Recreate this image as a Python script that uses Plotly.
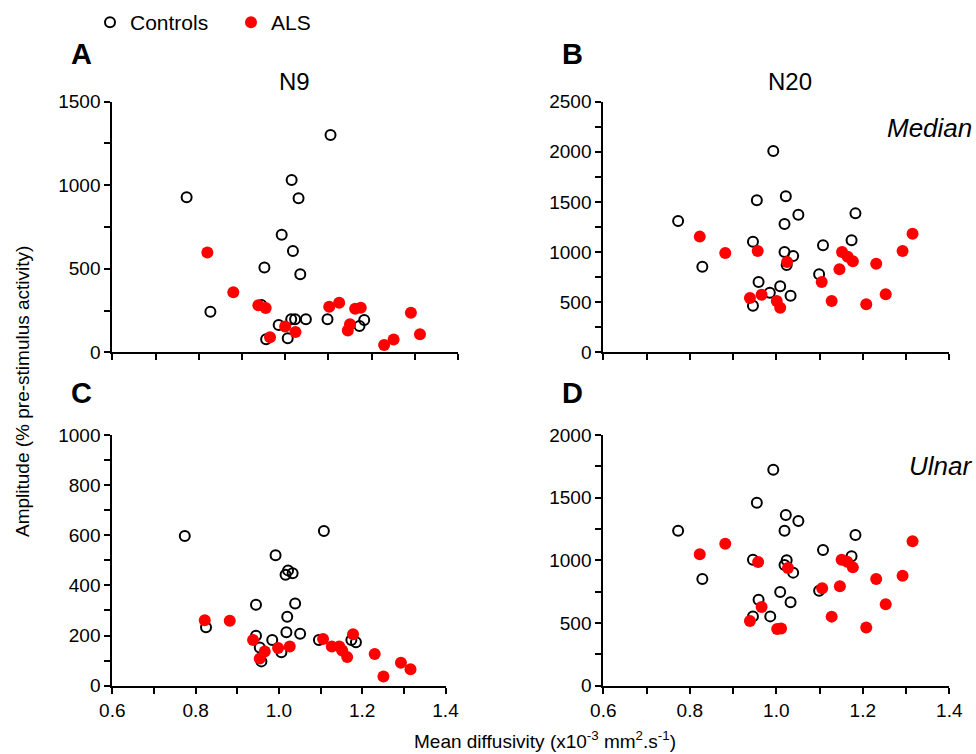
import plotly.graph_objects as go

# ---------------- data ----------------
# Panel A: N9, median nerve
a_ctrl_x = [0.772, 0.827, 1.105, 1.015, 1.031, 0.992, 1.018, 0.952, 1.035, 0.945, 0.985, 1.014, 1.023, 1.048, 1.098, 1.183, 1.172, 0.956, 1.006]
a_ctrl_y = [928, 243, 1301, 1031, 922, 704, 606, 507, 467, 283, 164, 198, 198, 198, 198, 194, 158, 78, 84]
a_als_x = [0.820, 0.880, 0.938, 0.955, 0.965, 1.000, 1.024, 1.102, 1.125, 1.162, 1.175, 1.150, 1.145, 1.291, 1.312, 1.251, 1.229]
a_als_y = [597, 359, 281, 265, 90, 154, 122, 273, 297, 261, 267, 168, 130, 237, 108, 76, 44]

# Panel B: N20, median nerve
b_ctrl_x = [0.773, 0.829, 0.993, 0.955, 1.022, 1.051, 1.183, 1.019, 0.946, 1.174, 1.108, 1.019, 1.039, 1.024, 1.099, 0.959, 1.009, 0.985, 1.033, 0.946]
b_ctrl_y = [1310, 854, 2008, 1516, 1556, 1373, 1386, 1280, 1104, 1117, 1067, 1001, 961, 871, 778, 701, 658, 595, 565, 465]
b_als_x = [0.823, 0.882, 0.957, 1.025, 0.966, 0.939, 1.001, 1.009, 1.105, 1.128, 1.146, 1.152, 1.165, 1.177, 1.231, 1.208, 1.253, 1.292, 1.315]
b_als_y = [1154, 991, 1011, 901, 575, 542, 512, 445, 701, 512, 828, 1001, 954, 908, 884, 479, 578, 1011, 1183]

# Panel C: N9, ulnar nerve
c_ctrl_x = [0.774, 0.825, 1.108, 0.992, 1.022, 1.033, 1.016, 0.945, 1.039, 1.020, 0.945, 1.018, 1.051, 0.984, 1.096, 1.174, 1.185, 0.954, 1.006, 0.958]
c_ctrl_y = [597, 233, 617, 520, 460, 449, 443, 323, 328, 275, 199, 213, 207, 182, 182, 182, 173, 152, 133, 97]
c_als_x = [0.822, 0.882, 0.938, 0.966, 0.954, 0.998, 1.026, 1.106, 1.127, 1.145, 1.152, 1.164, 1.178, 1.230, 1.251, 1.293, 1.316]
c_als_y = [261, 259, 182, 136, 108, 150, 156, 186, 156, 156, 140, 114, 205, 126, 37, 92, 66]

# Panel D: N20, ulnar nerve
d_ctrl_x = [0.773, 0.829, 0.993, 0.955, 1.022, 1.051, 1.019, 1.183, 1.108, 1.174, 0.946, 1.024, 1.019, 1.039, 1.009, 1.099, 0.959, 1.033, 0.946, 0.986]
d_ctrl_y = [1237, 851, 1723, 1460, 1362, 1314, 1237, 1202, 1082, 1032, 1005, 1000, 963, 902, 747, 758, 686, 665, 553, 553]
d_als_x = [0.823, 0.882, 0.958, 1.027, 0.966, 0.939, 1.002, 1.011, 1.106, 1.128, 1.147, 1.151, 1.164, 1.177, 1.231, 1.208, 1.253, 1.292, 1.315]
d_als_y = [1048, 1133, 987, 939, 628, 516, 452, 457, 777, 551, 793, 1005, 989, 944, 851, 465, 649, 878, 1152]

x_range = [0.6, 1.4]
y_max = [1500, 2500, 1000, 2000]
y_major = [500, 500, 200, 500]
y_minor = [250, 250, 100, 250]

# ---------------- figure ----------------
W, H = 976, 754
FONT = "Liberation Sans, Arial, Helvetica, sans-serif"

def px_x(p):
    return p / W

def px_y(p):
    return 1 - p / H

panels = [
    (a_ctrl_x, a_ctrl_y, a_als_x, a_als_y),
    (b_ctrl_x, b_ctrl_y, b_als_x, b_als_y),
    (c_ctrl_x, c_ctrl_y, c_als_x, c_als_y),
    (d_ctrl_x, d_ctrl_y, d_als_x, d_als_y),
]
x_domains = [
    [px_x(112.3), px_x(458.0)],
    [px_x(603.3), px_x(949.3)],
    [px_x(112.3), px_x(445.5)],
    [px_x(603.3), px_x(949.3)],
]
y_domains = [
    [px_y(352.3), px_y(101.7)],
    [px_y(352.3), px_y(101.7)],
    [px_y(685.7), px_y(435.0)],
    [px_y(685.7), px_y(435.0)],
]

fig = go.Figure()
layout = {}
for i, (cx, cy, ax_, ay_) in enumerate(panels):
    n = "" if i == 0 else str(i + 1)
    xa, ya = "x" + n, "y" + n
    fig.add_trace(go.Scatter(
        x=cx, y=cy, mode="markers", xaxis=xa, yaxis=ya, name="Controls",
        legendgroup="c", showlegend=(i == 0), cliponaxis=False,
        marker=dict(symbol="circle-open", size=10, color="black", line=dict(width=2, color="black")),
    ))
    fig.add_trace(go.Scatter(
        x=ax_, y=ay_, mode="markers", xaxis=xa, yaxis=ya, name="ALS",
        legendgroup="a", showlegend=(i == 0), cliponaxis=False,
        marker=dict(symbol="circle", size=12, color="#ff0000", line=dict(width=0)),
    ))
    layout["xaxis" + n] = dict(
        domain=x_domains[i], range=x_range, anchor=ya, showgrid=False, zeroline=False,
        automargin=False,
        showline=True, linecolor="black", linewidth=2, ticks="outside", ticklen=6,
        tickwidth=2, tickcolor="black", dtick=0.2, tick0=0.6, tickformat=".1f",
        showticklabels=(i >= 2), tickfont=dict(family=FONT, size=19, color="black"),
        minor=dict(dtick=0.1, tick0=0.6, ticks="outside", ticklen=6, tickwidth=2, tickcolor="black", showgrid=False),
        fixedrange=True,
    )
    layout["yaxis" + n] = dict(
        domain=y_domains[i], range=[0, y_max[i]], anchor=xa, showgrid=False, zeroline=False,
        automargin=False,
        showline=True, linecolor="black", linewidth=2, ticks="outside", ticklen=6,
        tickwidth=2, tickcolor="black", dtick=y_major[i], tick0=0,
        tickfont=dict(family=FONT, size=19, color="black"),
        minor=dict(dtick=y_minor[i], tick0=0, ticks="outside", ticklen=6, tickwidth=2, tickcolor="black", showgrid=False),
        fixedrange=True,
    )

fig.update_layout(
    width=W, height=H,
    margin=dict(l=0, r=0, t=0, b=0, pad=0, autoexpand=False),
    paper_bgcolor="white", plot_bgcolor="white",
    font=dict(family=FONT, size=19, color="black"),
    showlegend=True,
    legend=dict(orientation="h", x=px_x(90), y=px_y(2), xanchor="left", yanchor="top",
                font=dict(family=FONT, size=21, color="black"), entrywidth=96,
                entrywidthmode="pixels", bgcolor="rgba(0,0,0,0)", itemsizing="trace"),
    **layout,
)

def ann(text, x, y, size, xanchor="center", yanchor="middle", bold=False, italic=False, angle=0):
    t = text
    if bold:
        t = "<b>" + t + "</b>"
    if italic:
        t = "<i>" + t + "</i>"
    fig.add_annotation(text=t, x=px_x(x), y=px_y(y), xref="paper", yref="paper",
                       xanchor=xanchor, yanchor=yanchor, showarrow=False, textangle=angle,
                       font=dict(family=FONT, size=size, color="black"))

ann("A", 81, 54, 29, bold=True)
ann("B", 572, 54, 29, bold=True)
ann("C", 81, 393, 29, bold=True)
ann("D", 572, 393, 29, bold=True)
ann("N9", 294, 82, 24)
ann("N20", 790, 82, 24)
ann("Median", 974, 128, 26, xanchor="right", italic=True)
ann("Ulnar", 974, 466, 26, xanchor="right", italic=True)
ann("Amplitude (% pre-stimulus activity)", 22, 392, 19, angle=-90)
ann("Mean diffusivity (x10<sup>-3</sup> mm<sup>2</sup>.s<sup>-1</sup>)", 545, 740, 19)

fig.write_html("out.html", config={"displayModeBar": False},
               post_script="document.body.style.margin='0';document.body.style.overflow='hidden';")
